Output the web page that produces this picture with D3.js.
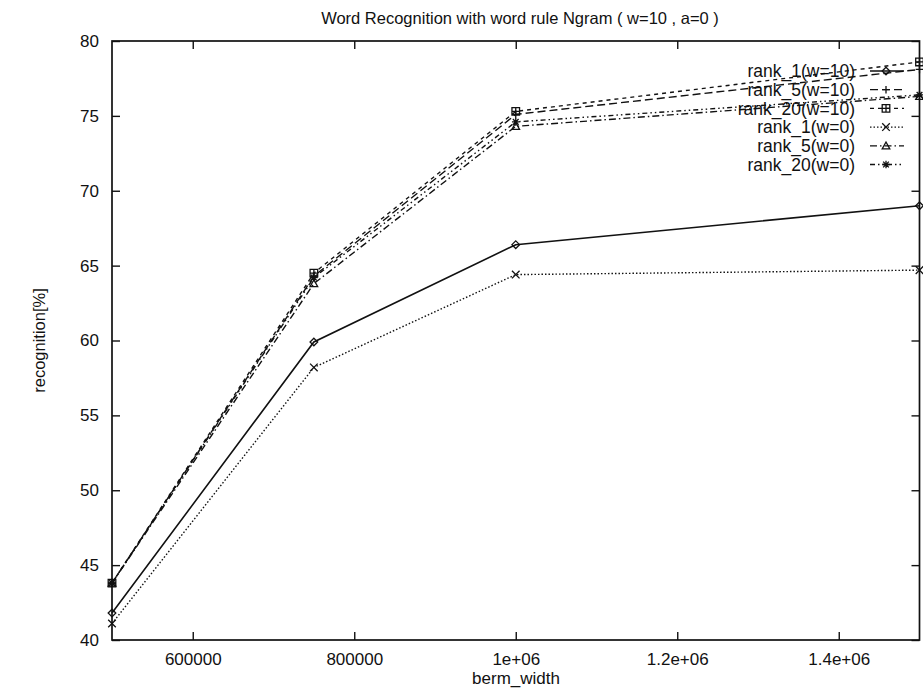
<!DOCTYPE html>
<html>
<head>
<meta charset="utf-8">
<script src="https://cdn.jsdelivr.net/npm/d3@7"></script>
<style>
body { margin: 0; background: #fff; }
text { font-family: "Liberation Sans", Arial, sans-serif; fill: #111; }
</style>
</head>
<body>
<div id="my_dataviz"></div>
<script>
// data
var berm_width = [500000, 750000, 1000000, 1500000]
var rank1_w10 = [41.8, 59.9, 66.4, 69.0]
var rank5_w10 = [43.8, 64.3, 75.1, 78.1]
var rank20_w10 = [43.8, 64.5, 75.3, 78.6]
var rank1_w0 = [41.1, 58.2, 64.4, 64.7]
var rank5_w0 = [43.8, 63.8, 74.3, 76.3]
var rank20_w0 = [43.8, 64.2, 74.6, 76.4]
var series_names = ["rank_1(w=10)", "rank_5(w=10)", "rank_20(w=10)", "rank_1(w=0)", "rank_5(w=0)", "rank_20(w=0)"]
var x_ticks = [600000, 800000, 1000000, 1200000, 1400000]
var x_tick_labels = ["600000", "800000", "1e+06", "1.2e+06", "1.4e+06"]
var y_ticks = [40, 45, 50, 55, 60, 65, 70, 75, 80]

var all_series = [rank1_w10, rank5_w10, rank20_w10, rank1_w0, rank5_w0, rank20_w0]
var dashes = ["none", "8,4", "4,4", "1.5,2", "7,3,1.5,3", "5,3,1.5,3,1.5,3"]
var markers = ["diamond", "plus", "boxplus", "x", "triangle", "star"]

var margin = {top: 41, right: 3, bottom: 48, left: 112},
    width = 923 - margin.left - margin.right,
    height = 688 - margin.top - margin.bottom;

var svg = d3.select("#my_dataviz")
  .append("svg")
    .attr("width", 923)
    .attr("height", 688)

var g = svg.append("g")
    .attr("transform", "translate(" + margin.left + "," + margin.top + ")");

var x = d3.scaleLinear().domain([500000, 1500000]).range([0, width - 0.5])
var y = d3.scaleLinear().domain([40, 80]).range([height, 0])

// ticks, inward on all four sides
g.append("g")
  .attr("transform", "translate(0," + height + ")")
  .call(d3.axisBottom(x).tickValues(x_ticks).tickSize(-8).tickPadding(13)
    .tickFormat(function(d, i) { return x_tick_labels[i] }))
  .call(function(a) { a.select(".domain").remove() })
  .selectAll("text").style("font-size", "17px").attr("fill", "#111")

g.append("g")
  .call(d3.axisTop(x).tickValues(x_ticks).tickSize(-8).tickFormat(""))
  .call(function(a) { a.select(".domain").remove() })

g.append("g")
  .call(d3.axisLeft(y).tickValues(y_ticks).tickSize(-8).tickPadding(13))
  .call(function(a) { a.select(".domain").remove() })
  .selectAll("text").style("font-size", "17px").attr("fill", "#111")

g.append("g")
  .attr("transform", "translate(" + (width - 0.5) + ",0)")
  .call(d3.axisRight(y).tickValues(y_ticks).tickSize(-8).tickFormat(""))
  .call(function(a) { a.select(".domain").remove() })

g.selectAll(".tick line").attr("stroke", "#111").attr("stroke-width", 1.4)

// frame
g.append("rect")
  .attr("width", width - 0.5)
  .attr("height", height)
  .attr("fill", "none")
  .attr("stroke", "#111")
  .attr("stroke-width", 1.7)

function draw_marker(sel, type) {
  var s = 3.8
  var p = ""
  if (type == "diamond") p = "M0," + (-s) + "L" + s + ",0L0," + s + "L" + (-s) + ",0Z"
  if (type == "plus") p = "M" + (-s) + ",0H" + s + "M0," + (-s) + "V" + s
  if (type == "boxplus") p = "M" + (-s) + "," + (-s) + "H" + s + "V" + s + "H" + (-s) + "Z" +
                             "M" + (-s) + ",0H" + s + "M0," + (-s) + "V" + s
  if (type == "x") p = "M" + (-s) + "," + (-s) + "L" + s + "," + s + "M" + (-s) + "," + s + "L" + s + "," + (-s)
  if (type == "triangle") p = "M0," + (-s) + "L" + s + "," + (s * 0.8) + "H" + (-s) + "Z"
  if (type == "star") p = "M" + (-s) + ",0H" + s + "M0," + (-s) + "V" + s +
                          "M" + (-s * 0.75) + "," + (-s * 0.75) + "L" + (s * 0.75) + "," + (s * 0.75) +
                          "M" + (-s * 0.75) + "," + (s * 0.75) + "L" + (s * 0.75) + "," + (-s * 0.75)
  sel.append("path")
    .attr("d", p)
    .attr("fill", "none")
    .attr("stroke", "#111")
    .attr("stroke-width", 1.3)
}

var line = d3.line()
  .x(function(d) { return x(d.bw) })
  .y(function(d) { return y(d.v) })

all_series.forEach(function(vals, k) {
  var pts = berm_width.map(function(b, i) { return {bw: b, v: vals[i]} })
  g.append("path")
    .datum(pts)
    .attr("fill", "none")
    .attr("stroke", "#111")
    .attr("stroke-width", k == 0 ? 1.6 : 1.4)
    .attr("stroke-dasharray", dashes[k])
    .attr("d", line)
  pts.forEach(function(p) {
    var m = g.append("g").attr("transform", "translate(" + x(p.bw) + "," + y(p.v) + ")")
    draw_marker(m, markers[k])
  })
})

// legend
var legend = g.append("g").attr("transform", "translate(" + (width - 62) + ",30)")
series_names.forEach(function(name, k) {
  var row = legend.append("g").attr("transform", "translate(0," + (k * 18.7) + ")")
  row.append("text")
    .attr("x", -3)
    .attr("dy", "0.35em")
    .attr("text-anchor", "end")
    .style("font-size", "17.5px")
    .text(name)
  row.append("line")
    .attr("x1", 12).attr("x2", 46)
    .attr("stroke", "#111")
    .attr("stroke-width", 1.3)
    .attr("stroke-dasharray", dashes[k])
  var m = row.append("g").attr("transform", "translate(28,0)")
  draw_marker(m, markers[k])
})

// titles
svg.append("text")
  .attr("x", margin.left + width / 2 + 4)
  .attr("y", 24)
  .attr("text-anchor", "middle")
  .style("font-size", "16.5px")
  .text("Word Recognition with word rule Ngram ( w=10 , a=0 )")

svg.append("text")
  .attr("x", margin.left + width / 2)
  .attr("y", 684)
  .attr("text-anchor", "middle")
  .style("font-size", "17px")
  .text("berm_width")

svg.append("text")
  .attr("transform", "translate(45," + (margin.top + height / 2) + ") rotate(-90)")
  .attr("text-anchor", "middle")
  .style("font-size", "16.5px")
  .text("recognition[%]")
</script>
</body>
</html>
